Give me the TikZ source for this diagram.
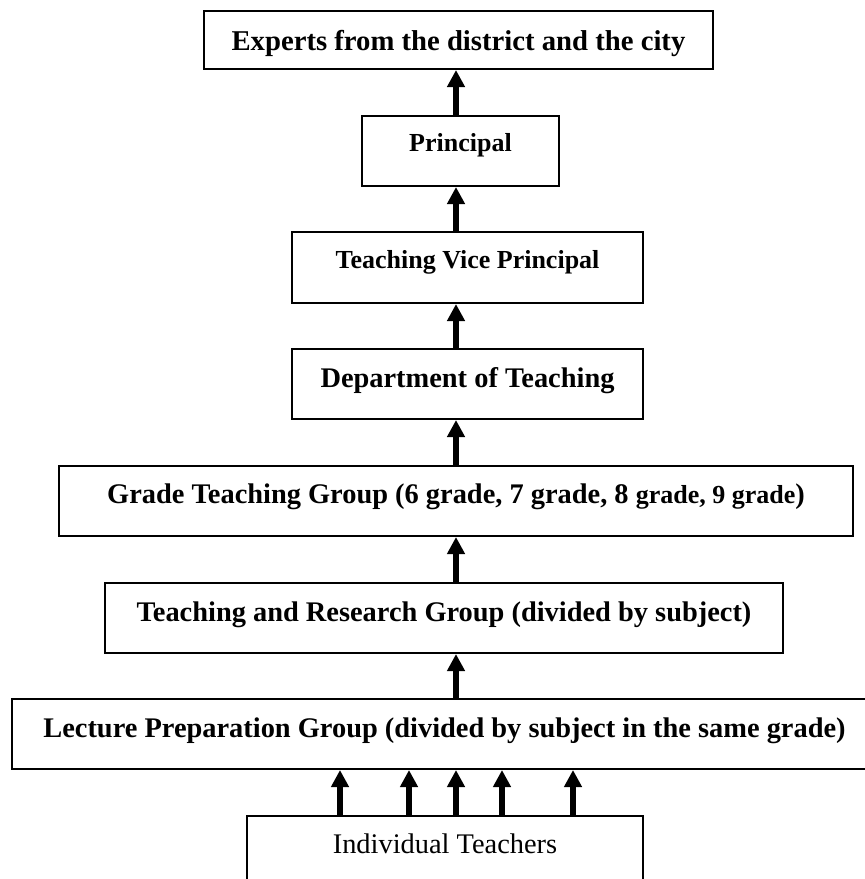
\documentclass[tikz,border=0pt]{standalone}
\usepackage{fontspec}
\setmainfont{Liberation Serif}
\usetikzlibrary{arrows.meta}
\begin{document}
\begin{tikzpicture}[x=1pt,y=-1pt,
  box/.style={draw,line width=2pt,inner sep=0pt,anchor=center,
    text height=15pt,text depth=9pt,
    font=\bfseries\fontsize{28.4}{34}\selectfont},
  smallbox/.style={box,font=\bfseries\fontsize{26}{31}\selectfont},
  arr/.style={line width=5.5pt,-{Triangle[length=17pt,width=17pt]}}]
\useasboundingbox (0,0) rectangle (865,879);
\clip (0,0) rectangle (865,879);
\coordinate (axis) at (456,0);
\coordinate (t1) at (340,0);
\coordinate (t2) at (409,0);
\coordinate (t3) at (456,0);
\coordinate (t4) at (502,0);
\coordinate (t5) at (573,0);
\node[box,minimum width=509pt,minimum height=58pt,text height=21.4pt,text depth=0pt,
  font=\bfseries\fontsize{28.7}{34}\selectfont] (experts) at (458.5,40)
  {Experts from the district and the city};
\node[smallbox,minimum width=197pt,minimum height=70pt,text height=12pt,text depth=12pt] (principal) at (460.5,151) {Principal};
\node[smallbox,minimum width=351pt,minimum height=71pt,text height=12.5pt,text depth=11.5pt] (vice) at (467.5,267.5) {Teaching Vice Principal};
\node[box,minimum width=351pt,minimum height=70pt,text height=15.3pt,text depth=8.7pt] (dept) at (467.5,384) {Department of Teaching};
\node[box,minimum width=794pt,minimum height=70pt,text height=14pt,text depth=10pt] (grade) at (456,501)
  {Grade Teaching Group (6 grade, 7 grade, 8 {\fontsize{26}{31}\selectfont grade, 9 grade})};
\node[box,minimum width=678pt,minimum height=70pt] (research) at (444,618) {Teaching and Research Group (divided by subject)};
\node[box,minimum width=865pt,minimum height=70pt] (lecture) at (444.5,734) {Lecture Preparation Group (divided by subject in the same grade)};
\node[box,minimum width=396pt,minimum height=70pt,text height=14pt,text depth=10pt,
  font=\fontsize{28.4}{34}\selectfont] (teachers) at (445,851) {Individual Teachers};
\draw[arr] (axis |- principal.north) -- (axis |- experts.south);
\draw[arr] (axis |- vice.north) -- (axis |- principal.south);
\draw[arr] (axis |- dept.north) -- (axis |- vice.south);
\draw[arr] (axis |- grade.north) -- (axis |- dept.south);
\draw[arr] (axis |- research.north) -- (axis |- grade.south);
\draw[arr] (axis |- lecture.north) -- (axis |- research.south);
\foreach \t in {t1,t2,t3,t4,t5}
  \draw[arr] (\t |- teachers.north) -- (\t |- lecture.south);
\end{tikzpicture}
\end{document}
